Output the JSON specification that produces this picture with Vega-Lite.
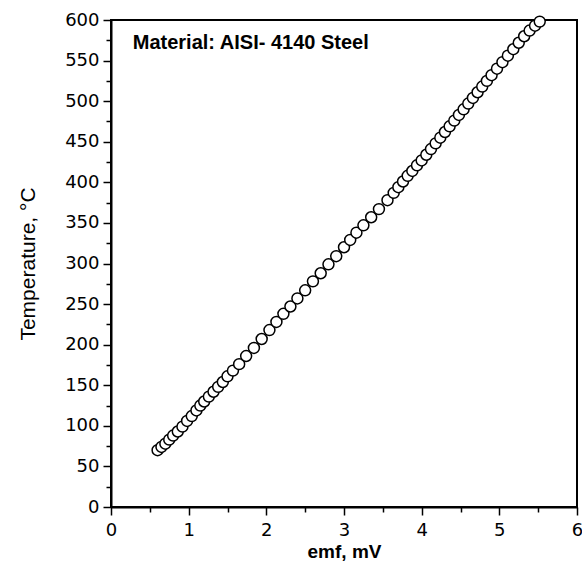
{
  "$schema": "https://vega.github.io/schema/vega-lite/v6.json",
  "width": 466,
  "height": 487,
  "autosize": "none",
  "padding": {"left": 111, "top": 20, "right": 5, "bottom": 67},
  "background": "white",
  "config": {
    "view": {"stroke": "black", "strokeWidth": 2},
    "axis": {
      "domainColor": "black", "domainWidth": 2, "tickColor": "black", "tickWidth": 1.5,
      "labelColor": "black", "titleColor": "black", "grid": false, "labelFlush": false,
      "labelFont": "DejaVu Sans", "titleFont": "Liberation Sans", "labelFontSize": 18
    }
  },
  "datasets": {
    "pts": [
      {"emf": 0.60, "T": 70}, {"emf": 0.65, "T": 74}, {"emf": 0.70, "T": 78}, {"emf": 0.75, "T": 83},
      {"emf": 0.80, "T": 88}, {"emf": 0.86, "T": 93}, {"emf": 0.92, "T": 99}, {"emf": 0.98, "T": 106},
      {"emf": 1.04, "T": 112}, {"emf": 1.10, "T": 119}, {"emf": 1.15, "T": 125}, {"emf": 1.20, "T": 130},
      {"emf": 1.26, "T": 136}, {"emf": 1.32, "T": 142}, {"emf": 1.38, "T": 148}, {"emf": 1.44, "T": 154},
      {"emf": 1.50, "T": 161}, {"emf": 1.57, "T": 168}, {"emf": 1.65, "T": 176}, {"emf": 1.74, "T": 186},
      {"emf": 1.84, "T": 196}, {"emf": 1.94, "T": 207}, {"emf": 2.04, "T": 218}, {"emf": 2.13, "T": 228},
      {"emf": 2.22, "T": 238}, {"emf": 2.31, "T": 247}, {"emf": 2.40, "T": 257}, {"emf": 2.50, "T": 267},
      {"emf": 2.60, "T": 278}, {"emf": 2.70, "T": 288}, {"emf": 2.80, "T": 299}, {"emf": 2.90, "T": 309},
      {"emf": 3.00, "T": 320}, {"emf": 3.08, "T": 329}, {"emf": 3.16, "T": 338}, {"emf": 3.25, "T": 347},
      {"emf": 3.35, "T": 357}, {"emf": 3.45, "T": 367}, {"emf": 3.56, "T": 378}, {"emf": 3.64, "T": 387},
      {"emf": 3.70, "T": 394}, {"emf": 3.76, "T": 401}, {"emf": 3.82, "T": 408}, {"emf": 3.88, "T": 414},
      {"emf": 3.94, "T": 421}, {"emf": 4.00, "T": 427}, {"emf": 4.06, "T": 434}, {"emf": 4.12, "T": 441},
      {"emf": 4.18, "T": 448}, {"emf": 4.24, "T": 455}, {"emf": 4.30, "T": 462}, {"emf": 4.36, "T": 469},
      {"emf": 4.42, "T": 476}, {"emf": 4.48, "T": 483}, {"emf": 4.54, "T": 490}, {"emf": 4.60, "T": 497},
      {"emf": 4.66, "T": 504}, {"emf": 4.72, "T": 511}, {"emf": 4.78, "T": 518}, {"emf": 4.84, "T": 525},
      {"emf": 4.90, "T": 532}, {"emf": 4.97, "T": 540}, {"emf": 5.04, "T": 548}, {"emf": 5.11, "T": 556},
      {"emf": 5.18, "T": 564}, {"emf": 5.25, "T": 572}, {"emf": 5.32, "T": 580}, {"emf": 5.39, "T": 587},
      {"emf": 5.46, "T": 593}, {"emf": 5.52, "T": 598}
    ],
    "label": [{"emf": 0.28, "T": 572, "text": "Material: AISI- 4140 Steel"}],
    "minor": [{"emf": 0, "T": 0}]
  },
  "layer": [
    {
      "data": {"name": "minor"},
      "mark": {"type": "point", "opacity": 0},
      "encoding": {
        "x": {"field": "emf", "type": "quantitative", "scale": {"domain": [0, 6], "nice": false},
          "axis": {"orient": "bottom", "values": [0.5, 1.5, 2.5, 3.5, 4.5, 5.5], "labels": false, "tickSize": 5, "domain": false, "title": null}},
        "y": {"field": "T", "type": "quantitative", "scale": {"domain": [0, 600], "nice": false},
          "axis": {"orient": "left", "values": [25, 75, 125, 175, 225, 275, 325, 375, 425, 475, 525, 575], "labels": false, "tickSize": 5, "domain": false, "title": null}}
      }
    },
    {
      "data": {"name": "pts"},
      "mark": {"type": "point", "shape": "circle", "filled": false, "fill": "white", "fillOpacity": 1, "stroke": "black", "strokeWidth": 1.5, "size": 120, "opacity": 1},
      "encoding": {
        "x": {"field": "emf", "type": "quantitative",
          "axis": {"orient": "bottom", "values": [0, 1, 2, 3, 4, 5, 6], "tickSize": 8, "labelPadding": 6, "title": "emf, mV", "titleFontSize": 19, "titleFontWeight": "bold", "titlePadding": 3}},
        "y": {"field": "T", "type": "quantitative",
          "axis": {"orient": "left", "values": [0, 50, 100, 150, 200, 250, 300, 350, 400, 450, 500, 550, 600], "tickSize": 8, "labelPadding": 4, "title": "Temperature, °C", "titleFontSize": 21, "titleFontWeight": "normal", "titlePadding": 26}}
      }
    },
    {
      "data": {"name": "label"},
      "mark": {"type": "text", "align": "left", "baseline": "middle", "font": "Liberation Sans", "fontWeight": "bold", "fontSize": 20, "color": "black"},
      "encoding": {
        "x": {"field": "emf", "type": "quantitative", "axis": null},
        "y": {"field": "T", "type": "quantitative", "axis": null},
        "text": {"field": "text"}
      }
    }
  ],
  "resolve": {"axis": {"x": "independent", "y": "independent"}}
}
